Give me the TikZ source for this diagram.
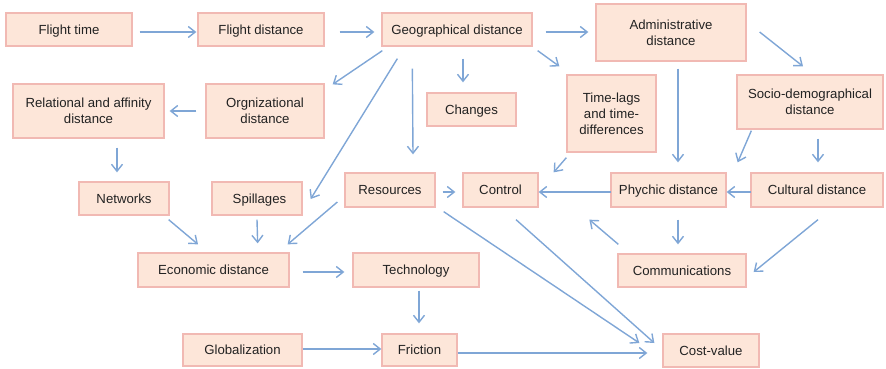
\documentclass[tikz,border=0pt]{standalone}
\usepackage{fontspec}
\setmainfont{Liberation Sans}
\usetikzlibrary{arrows.meta}
\definecolor{boxfill}{HTML}{FDE6D9}
\definecolor{boxline}{HTML}{F1B9B3}
\definecolor{arrowblue}{HTML}{7FA6D6}
\definecolor{ink}{HTML}{222222}
\tikzset{
  box/.style={draw=boxline, fill=boxfill, line width=1.3pt, text=ink,
    inner sep=0pt, align=center,
    font=\fontsize{13.2}{16}\selectfont},
  one line/.style={text height=9.5pt, text depth=0pt},
  arr/.style={draw=arrowblue, line width=1.4pt,
    -{Straight Barb[length=7pt,width=11pt,line width=1.4pt]}},
  thick arr/.style={arr, line width=2.2pt},
}
\newcommand{\boxat}[7]{% name, x1, y1, x2, y2, text, extra options
  \node[box, #7, minimum width={(#4-#2)*1pt}, minimum height={(#5-#3)*1pt}]
    (#1) at ({(#2+#4)/2},{(#3+#5)/2}) {#6};}
\begin{document}
\begin{tikzpicture}[x=1pt,y=-1pt]
\useasboundingbox (0,0) rectangle (886,368);

% boxes, corners given in picture units (y grows downwards)
\boxat{ft}{6}{13}{132}{46}{Flight time}{one line}
\boxat{fd}{198}{13}{324}{46}{Flight distance}{one line}
\boxat{geo}{382}{13}{532}{46}{Geographical distance}{one line}
\boxat{adm}{596}{4}{746}{61}{Administrative\\distance}{}
\boxat{org}{206}{84}{324}{138}{Orgnizational\\distance}{}
\boxat{rel}{13}{84}{164}{138}{Relational and affinity\\distance}{}
\boxat{chg}{427}{93}{516}{126}{Changes}{one line}
\boxat{tl}{567}{75}{656}{152}{Time-lags\\and time-\\differences}{}
\boxat{soc}{737}{75}{883}{129}{Socio-demographical\\distance}{}
\boxat{net}{79}{182}{169}{215}{Networks}{one line}
\boxat{spl}{212}{182}{302}{215}{\hspace*{5pt}Spillages}{one line}
\boxat{res}{345}{173}{435}{207}{Resources}{one line}
\boxat{ctl}{463}{173}{538}{207}{Control}{one line}
\boxat{phy}{611}{173}{726}{207}{Phychic distance}{one line}
\boxat{cul}{751}{173}{883}{207}{Cultural distance}{one line}
\boxat{eco}{138}{253}{289}{287}{Economic distance}{one line}
\boxat{tec}{353}{253}{479}{287}{Technology}{one line}
\boxat{com}{618}{254}{746}{287}{Communications}{one line}
\boxat{glo}{183}{334}{302}{366}{Globalization}{one line}
\boxat{fri}{382}{334}{457}{366}{Friction}{one line}
\boxat{cv}{663}{334}{759}{367}{Cost-value}{one line}

% connectors
\draw[arr] ([shift={(7,2.5)}]ft.east) -- ([shift={(-1,2.5)}]fd.west);
\draw[arr] ([shift={(15,2.5)}]fd.east) -- ([shift={(-7,2.5)}]geo.west);
\draw[arr] ([shift={(13,2.5)}]geo.east) -- ([shift={(-7,-0.5)}]adm.west);
\draw[arr] ([shift={(1,4)}]geo.south west) -- ([shift={(8,1)}]org.north east);
\draw[arr] ([shift={(16,12)}]geo.south west) -- ([shift={(8,0.5)}]spl.east);
\draw[arr] ([shift={(31,22)}]geo.south west) -- ([shift={(23,-18)}]res.north);
\draw[arr] ([shift={(6,12)}]geo.south) -- ([shift={(-8.5,-10)}]chg.north);
\draw[arr] ([shift={(5,4)}]geo.south east) -- ([shift={(-7,-8)}]tl.north west);
\draw[arr] ([shift={(13,-0.5)}]adm.east) -- ([shift={(-7,-8)}]soc.north);
\draw[arr] ([shift={(7,7)}]adm.south) -- ([shift={(9.5,-10)}]phy.north);
\draw[arr] ([shift={(0,5)}]tl.south west) -- ([shift={(15,0)}]ctl.north east);
\draw[arr] ([shift={(15,1)}]soc.south west) -- ([shift={(11,-10)}]phy.north east);
\draw[arr] ([shift={(8,9)}]soc.south) -- ([shift={(1,-10)}]cul.north);
\draw[arr] ([shift={(-9,0)}]org.west) -- ([shift={(5,0)}]rel.east);
\draw[arr] ([shift={(28.5,9)}]rel.south) -- ([shift={(-7,-9)}]net.north);
\draw[arr] ([shift={(-1,4)}]net.south east) -- ([shift={(-15.5,-8)}]eco.north);
\draw[arr] ([shift={(0,4)}]spl.south) -- ([shift={(-32,-9)}]eco.north east);
\draw[arr] ([shift={(-7,12)}]res.west) -- ([shift={(-2,-8)}]eco.north east);
\draw[arr] ([shift={(13,2)}]eco.east) -- ([shift={(-8,2)}]tec.west);
\draw[arr] ([shift={(3,3)}]tec.south) -- ([shift={(-0.5,-10)}]fri.north);
\draw[arr] ([shift={(0,-1)}]glo.east) -- ([shift={(0,-1)}]fri.west);
\draw[arr] ([shift={(7,2)}]res.east) -- ([shift={(-7,2)}]ctl.west);
\draw[thick arr] ([shift={(1,2)}]phy.west) -- ([shift={(0,2)}]ctl.east);
\draw[thick arr] ([shift={(1,2)}]cul.west) -- ([shift={(0,2)}]phy.east);
\draw[arr] ([shift={(8,4)}]res.south east) -- ([shift={(-23,-7.5)}]cv.west);
\draw[arr] ([shift={(15.5,12)}]ctl.south) -- ([shift={(-8,-7.5)}]cv.west);
\draw[arr] ([shift={(0,3)}]fri.east) -- ([shift={(-15,2.5)}]cv.west);
\draw[arr] ([shift={(1,-9)}]com.north west) -- ([shift={(-21,12)}]phy.south west);
\draw[arr] ([shift={(9.5,12)}]phy.south) -- ([shift={(-4,-9)}]com.north);
\draw[arr] ([shift={(1,12)}]cul.south) -- ([shift={(7,1.5)}]com.east);
\end{tikzpicture}
\end{document}
